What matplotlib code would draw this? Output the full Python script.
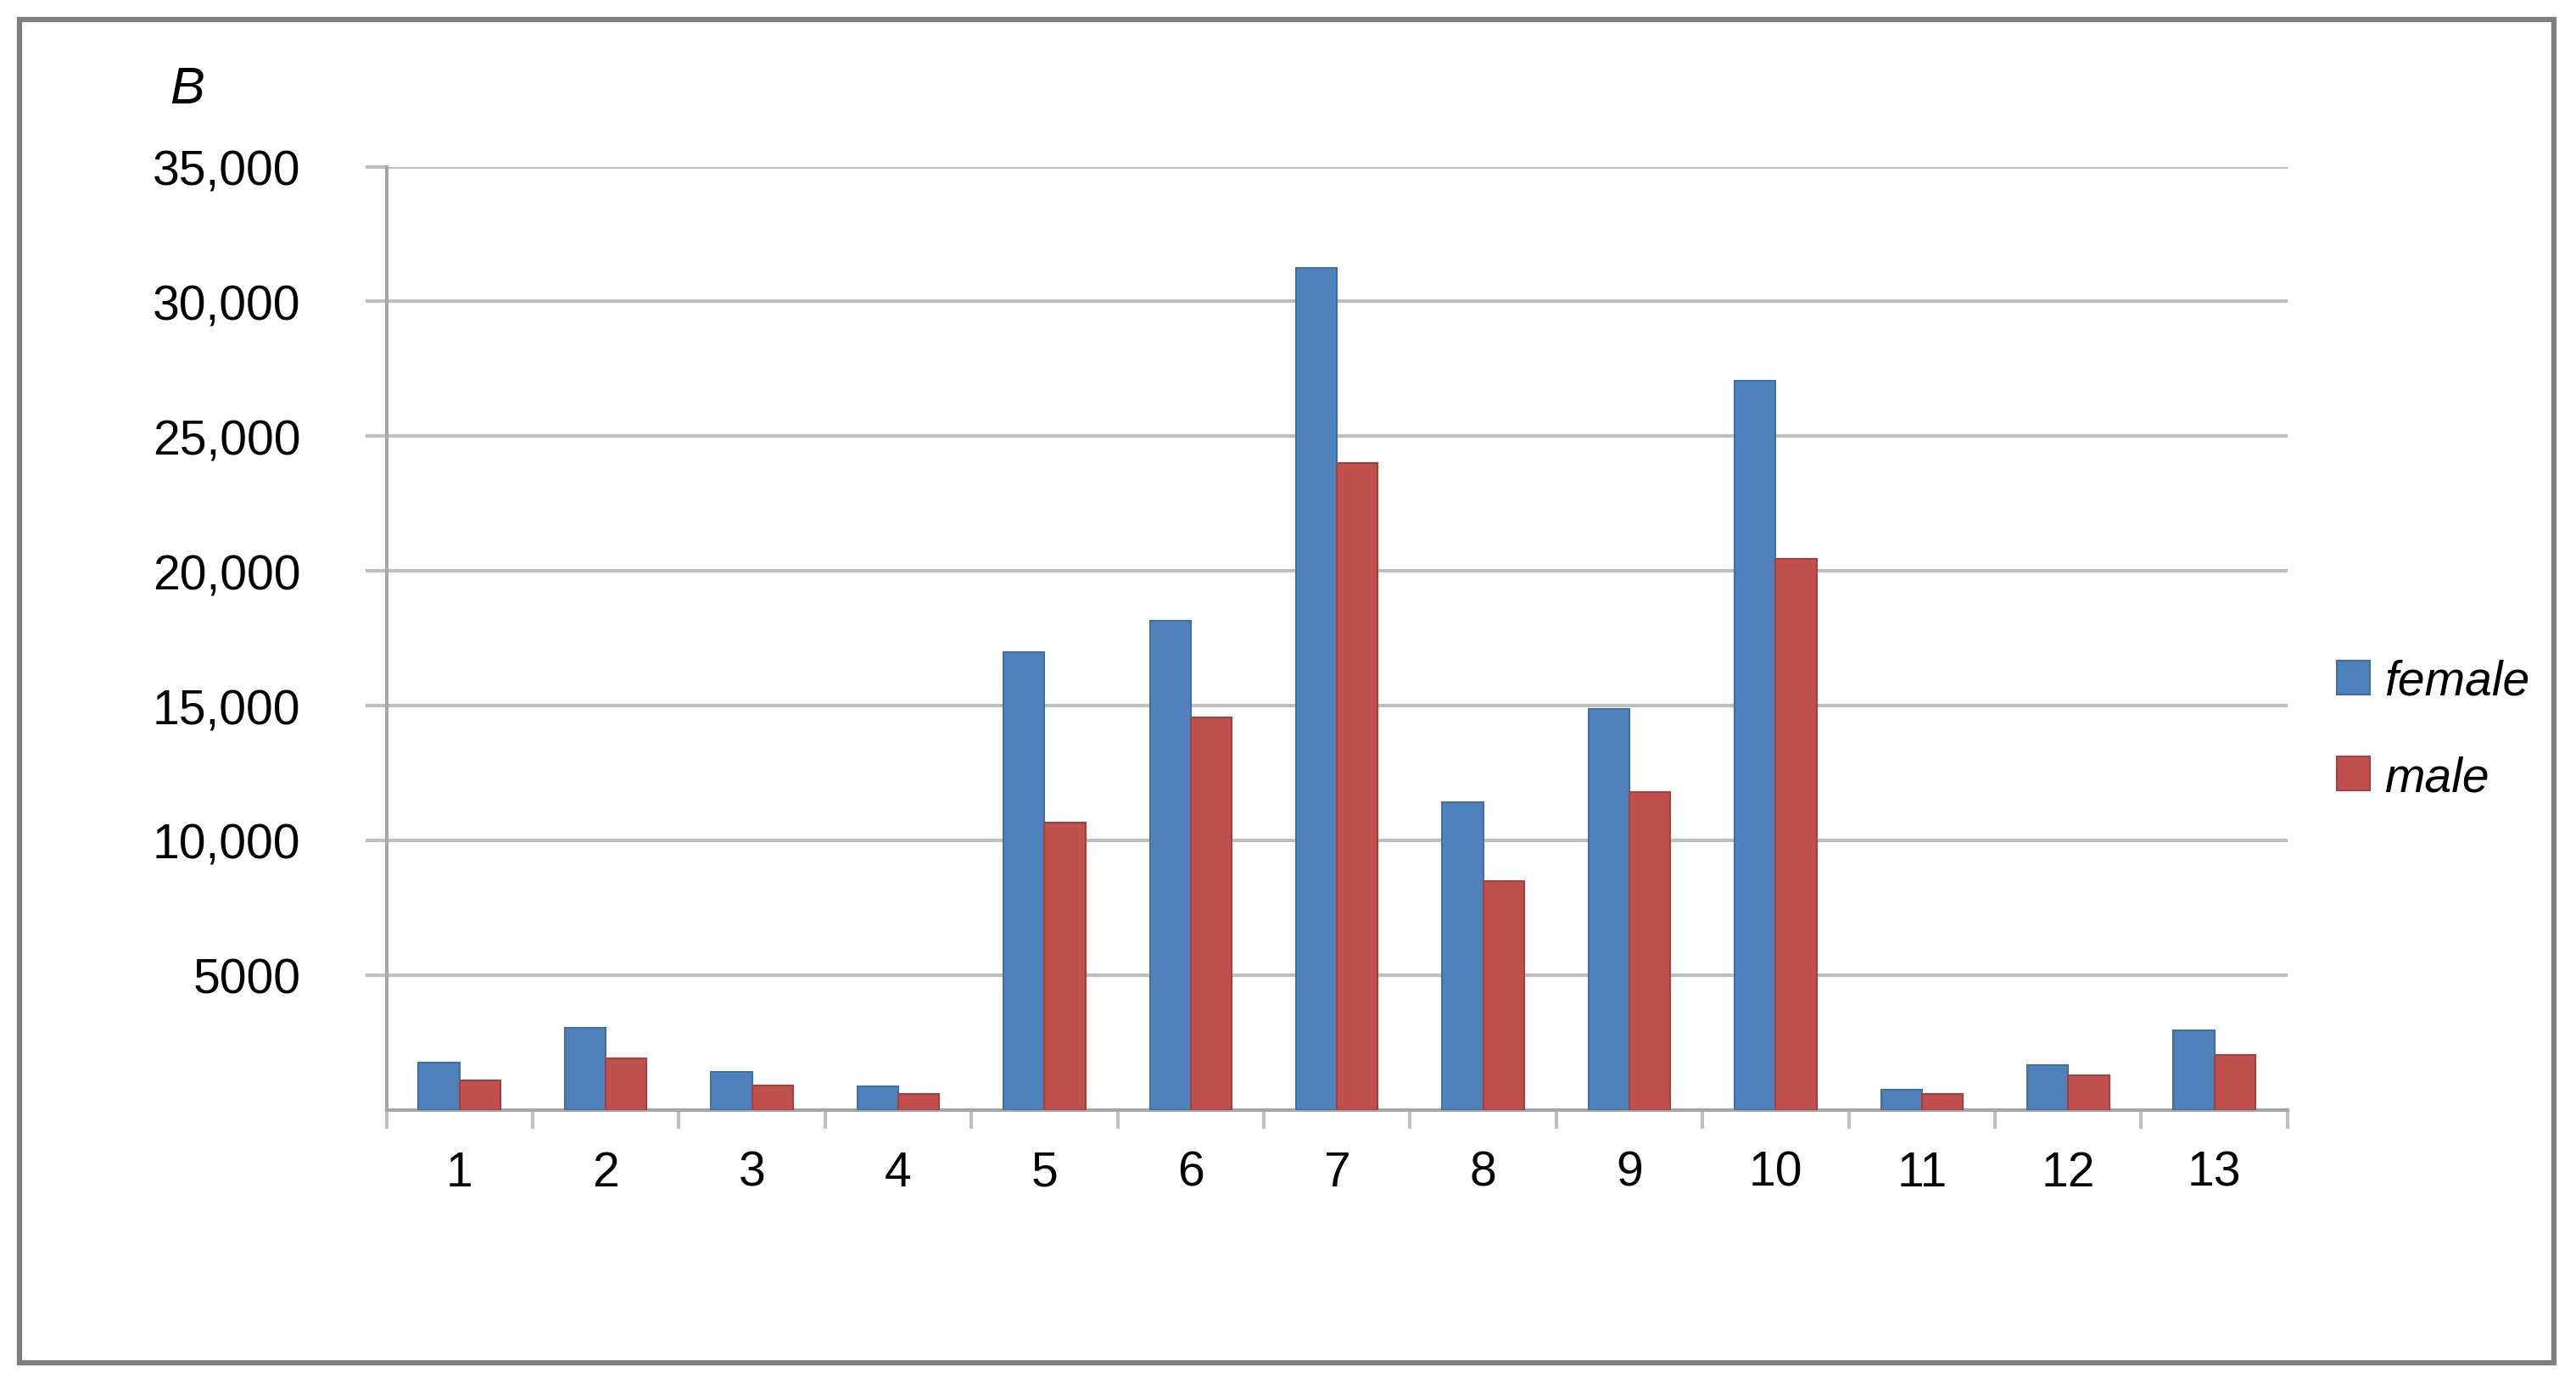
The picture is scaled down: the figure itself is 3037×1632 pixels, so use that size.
import numpy as np
import matplotlib
matplotlib.use("Agg")
import matplotlib.pyplot as plt
from matplotlib.patches import Rectangle

# values
categories = [str(i) for i in range(1, 14)]
female = [1750, 3050, 1400, 870, 17000, 18150, 31250, 11400, 14870, 27070, 750, 1650, 2950]
male = [1080, 1900, 900, 600, 10650, 14570, 24000, 8500, 11800, 20450, 600, 1270, 2040]
ytick_vals = [5000, 10000, 15000, 20000, 25000, 30000, 35000]
ytick_text = ["5000", "10,000", "15,000", "20,000", "25,000", "30,000", "35,000"]

plt.rcParams['font.family'] = ['Liberation Sans', 'DejaVu Sans']

blue = "#4F81BD"
red = "#C0504D"
grey = "#BFBFBF"

fig = plt.figure(figsize=(30.37, 16.33), dpi=100)
ax = fig.add_axes([0.150, 0.198, 0.738, 0.681])

x = np.arange(len(categories))
w = 0.28
ax.bar(x - w / 2, female, w, color=blue, edgecolor="#41709F", linewidth=1.5, label="female", zorder=3)
ax.bar(x + w / 2, male, w, color=red, edgecolor="#A3413E", linewidth=1.5, label="male", zorder=3)

ax.set_xlim(-0.5, len(categories) - 0.5)
ax.set_ylim(0, 35000)

# y axis
ax.set_yticks(ytick_vals)
ax.set_yticklabels(ytick_text, fontsize=41)
ax.yaxis.grid(True, color=grey, linewidth=3, zorder=0)
ax.tick_params(axis='y', length=18, width=3, color=grey, pad=55)

# x axis: ticks between groups, labels in the middle
ax.set_xticks(np.arange(len(categories) + 1) - 0.5)
ax.set_xticklabels([])
ax.tick_params(axis='x', which='major', length=16, width=3, color=grey)
ax.set_xticks(x, minor=True)
ax.set_xticklabels(categories, minor=True, fontsize=41)
ax.tick_params(axis='x', which='minor', length=0, pad=34)

for s in ['top', 'right']:
    ax.spines[s].set_visible(False)
for s in ['left', 'bottom']:
    ax.spines[s].set_color("#A6A6A6")
    ax.spines[s].set_linewidth(3)

ax.text(-0.105, 1.082, "B", transform=ax.transAxes, fontsize=44, style='italic',
        ha='center', va='center')

fig.legend(loc='center left', bbox_to_anchor=(0.907, 0.4725), frameon=False,
           prop={'size': 41, 'style': 'italic'}, handlelength=0.7, handleheight=0.7,
           handletextpad=0.3, labelspacing=1.05, borderpad=0, borderaxespad=0)

# outer frame
fig.patches.append(Rectangle((0.0076, 0.0155), 0.984, 0.970, transform=fig.transFigure,
                             fill=False, edgecolor="#7F7F7F", linewidth=4.5))

fig.savefig("out.png", dpi=100)
